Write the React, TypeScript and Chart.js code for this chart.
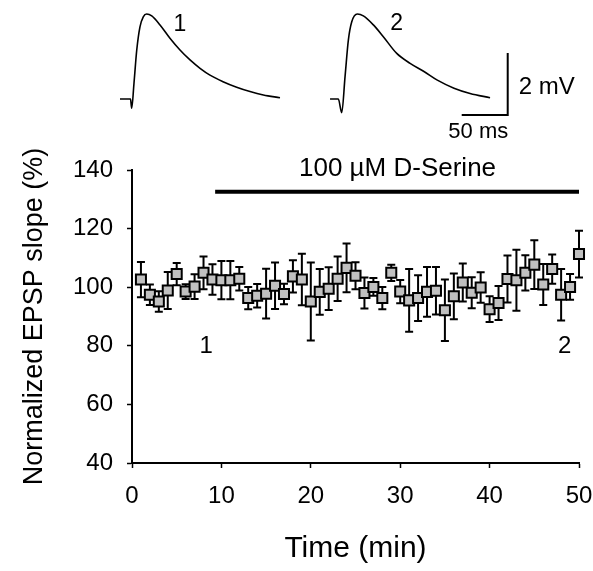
import React, { useEffect, useRef } from 'react';
import { Chart, registerables } from 'chart.js';

Chart.register(...registerables);

const FONT = '"Liberation Sans", Arial, Helvetica, sans-serif';

// ---- Time course data (minutes, % of baseline) ----
const TIMES = [
  1, 2, 3, 4, 5, 6, 7, 8, 9, 10,
  11, 12, 13, 14, 15, 16, 17, 18, 19, 20,
  21, 22, 23, 24, 25, 26, 27, 28, 29, 30,
  31, 32, 33, 34, 35, 36, 37, 38, 39, 40,
  41, 42, 43, 44, 45, 46, 47, 48, 49, 50,
];
const MEANS = [
  102.6, 97.4, 95.1, 98.9, 104.5, 98.5, 100.2, 104.9, 102.6, 102.4,
  102.4, 102.9, 96.3, 97.1, 97.8, 100.5, 97.7, 103.7, 102.6, 95.1,
  98.4, 99.5, 102.9, 106.6, 103.9, 98.0, 100.1, 96.3, 104.9, 98.5,
  95.5, 96.3, 98.4, 98.8, 92.1, 96.9, 101.6, 98.1, 99.9, 92.5,
  94.6, 102.8, 102.4, 104.9, 107.7, 100.9, 106.2, 97.4, 100.1, 111.3,
];
const ERRORS = [
  6, 3.5, 3.5, 6.3, 3.8, 2.5, 4.2, 5.6, 5.2, 6.5,
  6.5, 4, 3.8, 4, 8.5, 7.9, 3.5, 5.5, 8.8, 13.3,
  7.8, 7.3, 7.6, 8.3, 4.6, 5.3, 3, 3.8, 2.8, 4,
  10.7, 7.8, 8.5, 8.1, 10.5, 7.8, 6.5, 5.3, 5.2, 4.4,
  5.8, 8, 10.4, 6, 8.3, 7, 5, 8.8, 4.4, 8,
];
const X_TICKS = [0, 10, 20, 30, 40, 50];
const Y_TICKS = [40, 60, 80, 100, 120, 140];

// Drug application bar
const DRUG_LABEL = '100 µM D-Serine';
const DRUG_START = 9.3;
const DRUG_END = 50;
const DRUG_LEVEL = 132.6;

// Sample-point labels on the time course
const SAMPLE_LABELS = ['1', '2'];
const SAMPLE_TIMES = [8.3, 48.4];

// ---- EPSP traces (ms, mV) ----
const TRACE1_MS = [0, 11.4, 12.7, 15.2, 18.2, 21.7, 25.3, 29.0, 34.5, 43.5, 54.3, 65.2, 76.1, 87.0, 97.8, 112, 126.8, 141.3, 155.8, 173.9];
const TRACE1_MV = [0, 0, -0.30, 0.51, 1.58, 2.33, 2.65, 2.74, 2.68, 2.39, 1.96, 1.58, 1.26, 0.99, 0.77, 0.56, 0.38, 0.24, 0.13, 0.04];
const TRACE2_MS = [0, 9.0, 12.7, 16.3, 19.9, 23.6, 29.7, 36.2, 47.1, 57.9, 72.5, 87.0, 102.5, 116.6, 134.7, 152.2, 173.9];
const TRACE2_MV = [0, 0, -0.44, 0.72, 1.90, 2.49, 2.74, 2.68, 2.39, 2.01, 1.47, 1.15, 0.88, 0.61, 0.35, 0.18, 0.04];
const SCALE_MS = 50;
const SCALE_MV = 2;

export default function App() {
  const mainRef = useRef<HTMLCanvasElement | null>(null);
  const traceRef = useRef<HTMLCanvasElement | null>(null);

  useEffect(() => {
    if (!mainRef.current || !traceRef.current) return;

    // layout constants (not data)
    const TRACE_OFFSET = 228.3; // ms shift for trace 2 panel
    const BAR_CORNER_X = 421.4;
    const BAR_CORNER_Y = -0.516;

    const errorBars = {
      id: 'errorBars',
      beforeDatasetsDraw(chart: any) {
        const { ctx, scales } = chart;
        const x = scales.x, y = scales.y;
        ctx.save();
        ctx.strokeStyle = '#000';
        ctx.lineWidth = 2;
        TIMES.forEach((t, i) => {
          const px = x.getPixelForValue(t);
          const top = y.getPixelForValue(MEANS[i] + ERRORS[i]);
          const bot = y.getPixelForValue(MEANS[i] - ERRORS[i]);
          ctx.beginPath();
          ctx.moveTo(px, top); ctx.lineTo(px, bot);
          ctx.moveTo(px - 4, top); ctx.lineTo(px + 4, top);
          ctx.moveTo(px - 4, bot); ctx.lineTo(px + 4, bot);
          ctx.stroke();
        });
        ctx.restore();
      },
      afterDraw(chart: any) {
        const { ctx, scales } = chart;
        const x = scales.x, y = scales.y;
        ctx.save();
        ctx.fillStyle = '#000';
        ctx.textAlign = 'center';
        ctx.textBaseline = 'alphabetic';
        ctx.font = `26px ${FONT}`;
        ctx.fillText(DRUG_LABEL, x.getPixelForValue(29.7), y.getPixelForValue(137.9));
        ctx.font = `24px ${FONT}`;
        SAMPLE_LABELS.forEach((s, i) => {
          ctx.fillText(s, x.getPixelForValue(SAMPLE_TIMES[i]), y.getPixelForValue(77.4));
        });
        ctx.restore();
      },
    };

    const main = new Chart(mainRef.current, {
      type: 'scatter',
      data: {
        datasets: [
          {
            data: TIMES.map((t, i) => ({ x: t, y: MEANS[i] })),
            pointStyle: 'rect',
            pointRadius: 7.1,
            pointHoverRadius: 7.1,
            backgroundColor: '#c0c0c0',
            borderColor: '#000',
            borderWidth: 2,
            showLine: false,
            clip: false,
          } as any,
          {
            type: 'line',
            data: [{ x: DRUG_START, y: DRUG_LEVEL }, { x: DRUG_END, y: DRUG_LEVEL }],
            borderColor: '#000',
            borderWidth: 4,
            pointRadius: 0,
            showLine: true,
            clip: false,
          } as any,
        ],
      },
      options: {
        animation: false,
        responsive: false,
        events: [],
        layout: { padding: { top: 170, right: 14, left: 0, bottom: 0 } },
        plugins: { legend: { display: false }, tooltip: { enabled: false } },
        scales: {
          x: {
            type: 'linear',
            min: 0,
            max: 50,
            afterBuildTicks: (s: any) => { s.ticks = X_TICKS.map((v) => ({ value: v })); },
            afterFit: (s: any) => { s.height = 108; s.paddingLeft = 0; s.paddingRight = 0; },
            ticks: { color: '#000', font: { family: FONT, size: 24 }, padding: 14, maxRotation: 0 },
            grid: { drawOnChartArea: false, drawTicks: true, tickLength: 5, tickColor: '#000', tickWidth: 1.5 },
            border: { display: true, color: '#000', width: 2 },
            title: { display: true, text: 'Time (min)', color: '#000', font: { family: FONT, size: 30 }, padding: { top: 0, bottom: 4 } },
          },
          y: {
            type: 'linear',
            min: 40,
            max: 140,
            afterBuildTicks: (s: any) => { s.ticks = Y_TICKS.map((v) => ({ value: v })); },
            afterFit: (s: any) => { s.width = 132; },
            ticks: { color: '#000', font: { family: FONT, size: 24 }, padding: 14 },
            grid: { drawOnChartArea: false, drawTicks: true, tickLength: 5, tickColor: '#000', tickWidth: 1.5 },
            border: { display: true, color: '#000', width: 2 },
            title: { display: true, text: 'Normalized EPSP slope (%)', color: '#000', font: { family: FONT, size: 27 }, padding: { top: 18, bottom: 0 } },
          },
        },
      } as any,
      plugins: [errorBars],
    });

    const traceLabels = {
      id: 'traceLabels',
      afterDraw(chart: any) {
        const { ctx, scales } = chart;
        const x = scales.x, y = scales.y;
        ctx.save();
        ctx.fillStyle = '#000';
        ctx.textBaseline = 'middle';
        ctx.textAlign = 'center';
        ctx.font = `23px ${FONT}`;
        ctx.fillText(SAMPLE_LABELS[0], x.getPixelForValue(65.2), y.getPixelForValue(2.4));
        ctx.fillText(SAMPLE_LABELS[1], x.getPixelForValue(TRACE_OFFSET + 72.5), y.getPixelForValue(2.44));
        ctx.font = `22px ${FONT}`;
        ctx.fillText(`${SCALE_MS} ms`, x.getPixelForValue(BAR_CORNER_X - 32), y.getPixelForValue(BAR_CORNER_Y - 0.55));
        ctx.textAlign = 'left';
        ctx.font = `24px ${FONT}`;
        ctx.fillText(`${SCALE_MV} mV`, x.getPixelForValue(BAR_CORNER_X + 12), y.getPixelForValue(BAR_CORNER_Y + SCALE_MV / 2 - 0.1));
        ctx.restore();
      },
    };

    const trace = new Chart(traceRef.current, {
      type: 'line',
      data: {
        datasets: [
          {
            data: TRACE1_MS.map((t, i) => ({ x: t, y: TRACE1_MV[i] })),
            borderColor: '#000',
            borderWidth: 1.6,
            pointRadius: 0,
            cubicInterpolationMode: 'monotone',
          } as any,
          {
            data: TRACE2_MS.map((t, i) => ({ x: t + TRACE_OFFSET, y: TRACE2_MV[i] })),
            borderColor: '#000',
            borderWidth: 1.6,
            pointRadius: 0,
            cubicInterpolationMode: 'monotone',
          } as any,
          {
            data: [
              { x: BAR_CORNER_X - SCALE_MS, y: BAR_CORNER_Y },
              { x: BAR_CORNER_X, y: BAR_CORNER_Y },
              { x: BAR_CORNER_X, y: BAR_CORNER_Y + SCALE_MV },
            ],
            borderColor: '#000',
            borderWidth: 2,
            pointRadius: 0,
            tension: 0,
          } as any,
        ],
      },
      options: {
        animation: false,
        responsive: false,
        events: [],
        layout: { padding: { left: 120, right: 0, top: 0, bottom: 421 } },
        plugins: { legend: { display: false }, tooltip: { enabled: false } },
        scales: {
          x: { type: 'linear', display: false, min: 0, max: 514.1 },
          y: { type: 'linear', display: false, min: -1.645, max: 3.194 },
        },
      } as any,
      plugins: [traceLabels],
    });

    return () => {
      main.destroy();
      trace.destroy();
    };
  }, []);

  return (
    <div style={{ position: 'fixed', left: 0, top: 0, width: 593, height: 571, background: '#fff' }}>
      <canvas ref={mainRef} width={593} height={571} style={{ position: 'absolute', left: 0, top: 0, width: 593, height: 571 }} />
      <canvas ref={traceRef} width={593} height={571} style={{ position: 'absolute', left: 0, top: 0, width: 593, height: 571 }} />
    </div>
  );
}
